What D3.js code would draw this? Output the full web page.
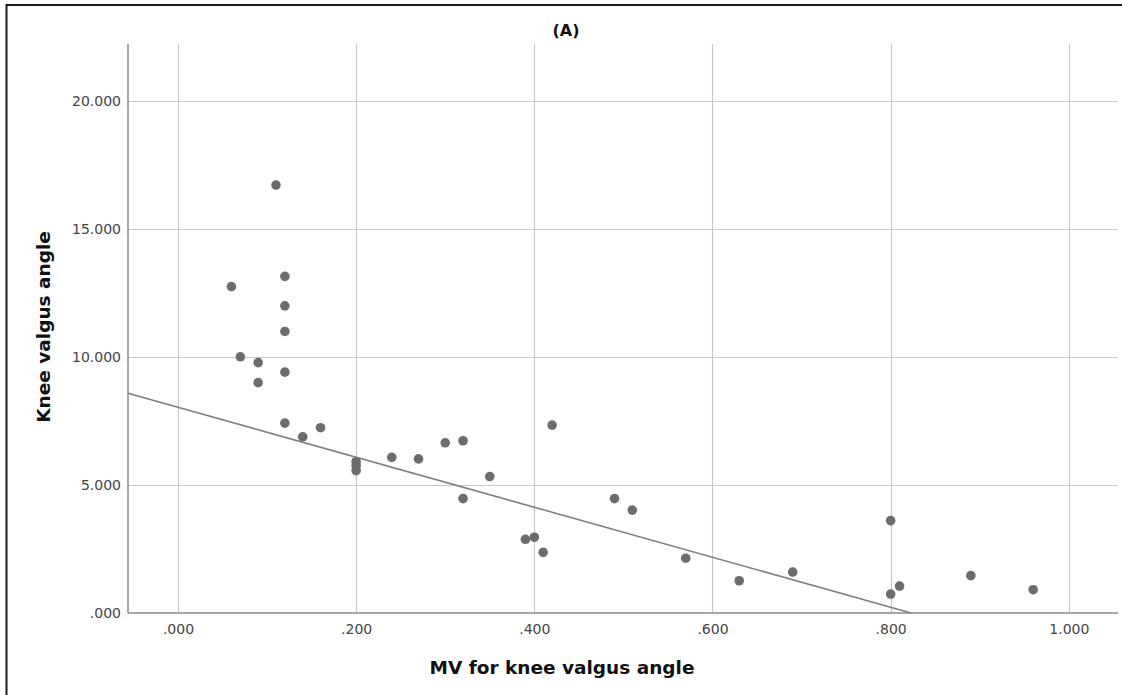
<!DOCTYPE html>
<html>
<head>
<meta charset="utf-8">
<script src="https://cdn.jsdelivr.net/npm/d3@7"></script>
<style>
  body { margin: 0; background: #fff; }
  svg { display: block; }
  .tick text { font-family: "DejaVu Sans", sans-serif; font-size: 14px; fill: #444; }
  .label { font-family: "DejaVu Sans", sans-serif; font-weight: bold; fill: #111; }
</style>
</head>
<body>
<div id="chart"><svg></svg></div>
<script>
// values
var mvValues = [0.06, 0.07, 0.09, 0.09, 0.11, 0.12, 0.12, 0.12, 0.12, 0.12,
  0.14, 0.16, 0.20, 0.20, 0.20, 0.24, 0.27, 0.30, 0.32, 0.32,
  0.35, 0.39, 0.40, 0.41, 0.42, 0.49, 0.51, 0.57, 0.63, 0.69,
  0.80, 0.80, 0.81, 0.89, 0.96];
var angleValues = [12.75, 10.01, 9.78, 9.00, 16.72, 13.15, 12.00, 11.00, 9.41, 7.42,
  6.88, 7.24, 5.91, 5.75, 5.56, 6.08, 6.02, 6.65, 6.73, 4.47,
  5.33, 2.88, 2.96, 2.37, 7.34, 4.47, 4.02, 2.14, 1.26, 1.60,
  3.61, 0.74, 1.05, 1.46, 0.91];
var xTicks = [0, 0.2, 0.4, 0.6, 0.8, 1.0];
var yTicks = [0, 5, 10, 15, 20];
var fitIntercept = 8.04;
var fitSlope = -9.77;

var W = 1122, H = 695;
var margin = { top: 44, right: 4, bottom: 82, left: 128 };
var width = W - margin.left - margin.right;
var height = H - margin.top - margin.bottom;

var svg = d3.select("#chart svg").
  attr("width", W).
  attr("height", H);

// outer frame, right and bottom edges fall outside the picture
svg.append("rect").
  attr("x", 6.5).attr("y", 5).
  attr("width", W + 20).attr("height", H + 20).
  attr("fill", "none").
  attr("stroke", "#1a1a1a").
  attr("stroke-width", 2);

var g = svg.append("g").
  attr("transform", "translate(" + margin.left + "," + margin.top + ")");

var xScale = d3.scaleLinear().
  domain([-0.0561, 1.0552]).
  range([0, width]);

var yScale = d3.scaleLinear().
  domain([0, 22.23]).
  range([height, 0]);

var fmt = function(v) {
  return d3.format(".3f")(v).replace(/^0\./, ".");
};

// grid
g.append("g").selectAll("line").
  data(xTicks).enter().append("line").
  attr("x1", function(d) { return Math.round(xScale(d)) + 0.5; }).
  attr("x2", function(d) { return Math.round(xScale(d)) + 0.5; }).
  attr("y1", 0).attr("y2", height).
  attr("stroke", "#c8c8c8").attr("stroke-width", 1.2);

g.append("g").selectAll("line").
  data(yTicks.filter(function(d) { return d > 0; })).enter().append("line").
  attr("y1", function(d) { return Math.round(yScale(d)) + 0.5; }).
  attr("y2", function(d) { return Math.round(yScale(d)) + 0.5; }).
  attr("x1", 0).attr("x2", width).
  attr("stroke", "#c8c8c8").attr("stroke-width", 1.2);

var xAxis = d3.axisBottom(xScale).
  tickValues(xTicks).
  tickFormat(fmt).
  tickSize(0).
  tickPadding(11);

var yAxis = d3.axisLeft(yScale).
  tickValues(yTicks).
  tickFormat(fmt).
  tickSize(0).
  tickPadding(7);

var gX = g.append("g").
  attr("transform", "translate(0," + height + ")").
  call(xAxis);
gX.select(".domain").remove();

var gY = g.append("g").call(yAxis);
gY.select(".domain").remove();

// axis lines
g.append("line").
  attr("x1", 0).attr("x2", width).
  attr("y1", height).attr("y2", height).
  attr("stroke", "#8a8a8a").attr("stroke-width", 1.5);
g.append("line").
  attr("x1", 0).attr("x2", 0).
  attr("y1", 0).attr("y2", height).
  attr("stroke", "#8a8a8a").attr("stroke-width", 1.5);

// fit line, from the left edge down to zero
var x0 = xScale.domain()[0];
var x1 = -fitIntercept / fitSlope;
var fitLine = d3.line().
  x(function(d) { return xScale(d); }).
  y(function(d) { return yScale(fitIntercept + fitSlope * d); });

g.append("path").
  datum([x0, x1]).
  attr("d", fitLine).
  attr("fill", "none").
  attr("stroke", "#808080").
  attr("stroke-width", 1.6);

// points
var ds = mvValues.map(function(x, i) { return { x: x, y: angleValues[i] }; });
g.append("g").selectAll("circle").
  data(ds).enter().append("circle").
  attr("cx", function(d) { return xScale(d.x); }).
  attr("cy", function(d) { return yScale(d.y); }).
  attr("r", 4.8).
  attr("fill", "#6c6c6c");

// labels
svg.append("text").
  attr("class", "label").
  attr("x", 566).attr("y", 36).
  attr("text-anchor", "middle").
  style("font-size", "16px").
  text("(A)");

svg.append("text").
  attr("class", "label").
  attr("x", 562).attr("y", 674).
  attr("text-anchor", "middle").
  style("font-size", "18.5px").
  text("MV for knee valgus angle");

svg.append("text").
  attr("class", "label").
  attr("transform", "translate(50,327) rotate(-90)").
  attr("text-anchor", "middle").
  style("font-size", "18.5px").
  text("Knee valgus angle");
</script>
</body>
</html>
